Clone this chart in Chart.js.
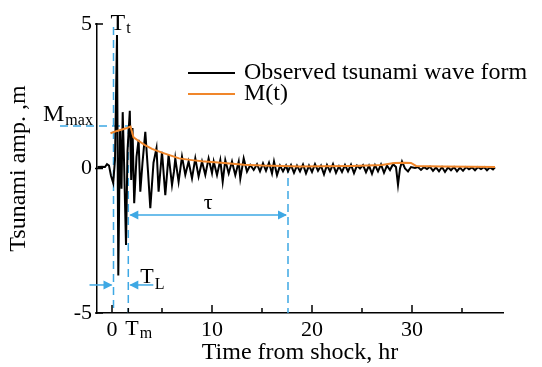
<!DOCTYPE html>
<html>
<head>
<meta charset="utf-8">
<script src="https://cdn.jsdelivr.net/npm/chart.js@4"></script>
<style>
  html, body { margin: 0; padding: 0; background: #fff; }
  #wrap { width: 542px; height: 367px; }
</style>
</head>
<body>
<div id="wrap"><canvas id="tsunamiChart"></canvas></div>
<script>
// observed wave form (hours from shock, metres)
const waveTime = [
  -1.45, -1.0, -0.7, -0.5, -0.3, -0.1, 0.12, 0.3, 0.5, 0.63, 0.8, 0.95, 1.07, 1.2, 1.4, 1.55, 1.78, 1.92,
  2.05, 2.22, 2.45, 2.66, 2.83, 3.05, 3.33, 3.6, 3.83, 4.15, 4.45, 4.66, 5.0, 5.33, 5.66, 6.0, 6.2, 6.33,
  6.66, 7.0, 7.33, 7.66, 8.0, 8.33, 8.66, 9.0, 9.33, 9.66, 10.0, 10.17, 10.5, 10.83, 11.07, 11.33, 11.67,
  12.0, 12.33, 12.67, 12.83, 13.17, 13.5, 13.83, 14.17, 14.5, 14.8, 15.1, 15.4, 15.7, 16.0, 16.2, 16.5,
  16.8, 17.1, 17.4, 17.6, 17.9, 18.2, 18.5, 18.8, 19.1, 19.4, 19.7, 20.0, 20.3, 20.6, 20.9, 21.2, 21.5,
  21.8, 22.1, 22.4, 22.7, 23.0, 23.3, 23.6, 23.9, 24.2, 24.5, 24.8, 25.1, 25.4, 25.7, 26.0, 26.3, 26.6,
  26.9, 27.2, 27.5, 27.8, 28.1, 28.4, 28.6, 28.8, 29.0, 29.3, 29.6, 29.9, 30.3, 30.6, 30.9, 31.2, 31.5,
  31.8, 32.1, 32.4, 32.7, 33.0, 33.3, 33.6, 33.9, 34.2, 34.5, 34.8, 35.1, 35.4, 35.7, 36.0, 36.3, 36.6,
  36.9, 37.2, 37.5, 37.8, 38.1, 38.3
];
const waveAmp = [
  0.05, 0.06, 0.05, 0.15, 0.1, -0.25, -0.5, 0.3, 4.62, -3.7, 1.3, -0.7, 1.95, 0.3, -2.65, 0.6, 2.0, -0.4,
  1.4, -1.2, 0.4, 0.99, -0.8, 0.2, 1.27, -0.1, -1.37, 0.2, 0.7, -0.8, 0.58, -0.92, 0.47, -0.57, -0.1, 0.35,
  -0.46, 0.41, -0.22, 0.24, -0.34, 0.35, -0.28, 0.24, -0.22, 0.35, -0.16, 0.24, -0.23, 0.29, -0.46, 0.29, -0.17,
  0.24, -0.23, 0.24, -0.35, 0.35, -0.11, 0.12, -0.05, 0.15, -0.1, 0.18, -0.08, 0.2, -0.17, 0.24, -0.23,
  0.1, -0.1, 0.1, -0.1, 0.12, -0.15, 0.1, -0.1, 0.14, -0.17, 0.1, -0.12, 0.15, -0.08, 0.1, -0.2, 0.12,
  -0.1, 0.15, -0.15, 0.08, -0.12, 0.12, -0.1, 0.13, -0.16, 0.1, 0.0, 0.12, -0.13, 0.1, -0.18, 0.12, -0.1,
  0.14, -0.15, 0.1, -0.05, 0.15, 0.05, -0.57, 0.0, 0.24, 0.0, -0.1, 0.05, 0.02, 0.05, -0.05, 0.05, -0.02,
  0.06, -0.08, 0.04, -0.1, 0.05, -0.12, 0.04, -0.06, 0.05, -0.1, 0.03, -0.08, 0.05, -0.03, 0.04, -0.06, 0.05,
  -0.02, 0.05, -0.06, 0.04, -0.03, 0.04
];

// M(t) envelope
const envTime = [-0.15, 0.5, 1.0, 1.5, 1.85, 2.15, 2.6, 3.3, 4.0, 5.0, 6.2, 6.7, 8.0, 9.0, 10.3, 11.5, 13.2,
  15.0, 17.0, 18.8, 21.0, 24.0, 27.0, 28.2, 29.3, 29.9, 30.4, 33.0, 36.0, 38.3];
const envAmp = [1.22, 1.3, 1.35, 1.4, 1.45, 1.08, 0.97, 0.81, 0.68, 0.55, 0.41, 0.35, 0.29, 0.25, 0.22, 0.18, 0.13,
  0.1, 0.09, 0.07, 0.08, 0.09, 0.12, 0.19, 0.2, 0.19, 0.09, 0.07, 0.06, 0.05];

const xTicks = [0, 10, 20, 30];
const xMinorTicks = [5, 15, 25, 35];
const yTicks = [-5, 0, 5];

// marked times / levels
const arrivalTime = 0.15;   // T_t
const peakTime = 1.63;      // T_m
const durationEnd = 17.6;   // end of tau
const envMax = 1.47;        // M_max

const blue = '#3ea8e4';
const orange = '#f0862a';
const serif = "'Liberation Serif', 'Times New Roman', serif";

function seg(ctx, x1, y1, x2, y2) {
  ctx.beginPath();
  ctx.moveTo(x1, y1);
  ctx.lineTo(x2, y2);
  ctx.stroke();
}

function arrowHead(ctx, x, y, dir) {
  ctx.beginPath();
  ctx.moveTo(x, y);
  ctx.lineTo(x - 9 * dir, y - 4.5);
  ctx.lineTo(x - 9 * dir, y + 4.5);
  ctx.closePath();
  ctx.fill();
}

function subText(ctx, main, sub, x, y, size, subSize, drop) {
  ctx.font = size + 'px ' + serif;
  ctx.fillText(main, x, y);
  const w = ctx.measureText(main).width;
  ctx.font = subSize + 'px ' + serif;
  ctx.fillText(sub, x + w + 1, y + drop);
}

const marksPlugin = {
  id: 'marks',
  beforeDatasetsDraw(chart) {
    const { ctx, chartArea } = chart;
    const xs = chart.scales.x, ys = chart.scales.y;
    const xt = xs.getPixelForValue(arrivalTime);
    const xm = xs.getPixelForValue(peakTime);
    const xe = xs.getPixelForValue(durationEnd);
    const yMax = ys.getPixelForValue(envMax);
    const bottom = chartArea.bottom;

    ctx.save();
    ctx.strokeStyle = blue;
    ctx.fillStyle = blue;
    ctx.lineWidth = 1.5;
    ctx.setLineDash([8, 5]);
    seg(ctx, xt, ys.getPixelForValue(4.9), xt, bottom);
    seg(ctx, chartArea.left - 37, yMax, xm, yMax);
    seg(ctx, xm, yMax, xm, bottom);
    seg(ctx, xe, ys.getPixelForValue(0.12), xe, bottom);
    ctx.setLineDash([]);

    const yTau = ys.getPixelForValue(-1.61);
    seg(ctx, xm + 2, yTau, xe - 2, yTau);
    arrowHead(ctx, xm + 1, yTau, -1);
    arrowHead(ctx, xe - 1, yTau, 1);

    const yL = ys.getPixelForValue(-4.03);
    seg(ctx, xt - 24, yL, xt - 2, yL);
    arrowHead(ctx, xt - 1, yL, 1);
    seg(ctx, xm + 25, yL, xm + 2, yL);
    arrowHead(ctx, xm + 1, yL, -1);
    ctx.restore();
  },
  afterDraw(chart) {
    const { ctx, chartArea } = chart;
    const xs = chart.scales.x, ys = chart.scales.y;
    const xt = xs.getPixelForValue(arrivalTime);
    const xm = xs.getPixelForValue(peakTime);
    const xe = xs.getPixelForValue(durationEnd);
    const bottom = chartArea.bottom;

    ctx.save();
    // tick marks
    ctx.strokeStyle = '#000';
    ctx.lineWidth = 1.5;
    xTicks.forEach(v => { const p = xs.getPixelForValue(v); seg(ctx, p, bottom, p, bottom - 8); });
    xMinorTicks.forEach(v => { const p = xs.getPixelForValue(v); seg(ctx, p, bottom, p, bottom - 5); });
    seg(ctx, xm, bottom, xm, bottom - 5);
    yTicks.forEach(v => { const p = ys.getPixelForValue(v); seg(ctx, chartArea.left - 2, p, chartArea.left + 6, p); });

    // labels for the marks
    ctx.fillStyle = '#000';
    ctx.textAlign = 'left';
    ctx.textBaseline = 'alphabetic';
    subText(ctx, 'T', 't', xt - 3, ys.getPixelForValue(5) + 6, 24, 16, 3);
    subText(ctx, 'M', 'max', chartArea.left - 54, ys.getPixelForValue(envMax) - 5, 24, 16, 4);
    subText(ctx, 'T', 'L', xm + 12, ys.getPixelForValue(-4.03) - 2, 22, 16, 6);
    subText(ctx, 'T', 'm', xm - 3, bottom + 22, 22, 16, 3);
    ctx.font = '22px ' + serif;
    ctx.textAlign = 'center';
    ctx.fillText('τ', (xm + xe) / 2, ys.getPixelForValue(-1.61) - 6);

    // legend
    ctx.textAlign = 'left';
    ctx.textBaseline = 'middle';
    ctx.font = '24px ' + serif;
    chart.data.datasets.forEach((ds, i) => {
      const yy = 73 + i * 21;
      ctx.strokeStyle = ds.borderColor;
      ctx.lineWidth = 2;
      seg(ctx, 188, yy, 235, yy);
      ctx.fillStyle = '#000';
      ctx.fillText(ds.label, 244, yy);
    });
    ctx.restore();
  }
};

const ctx = document.getElementById('tsunamiChart').getContext('2d');
new Chart(ctx, {
  type: 'line',
  data: {
    datasets: [
      {
        label: 'Observed tsunami wave form',
        data: waveTime.map((t, i) => ({ x: t, y: waveAmp[i] })),
        borderColor: '#000',
        borderWidth: 2,
        pointRadius: 0,
        tension: 0,
        order: 1
      },
      {
        label: 'M(t)',
        data: envTime.map((t, i) => ({ x: t, y: envAmp[i] })),
        borderColor: orange,
        borderWidth: 2,
        pointRadius: 0,
        tension: 0,
        order: 0
      }
    ]
  },
  options: {
    responsive: true,
    maintainAspectRatio: false,
    animation: false,
    devicePixelRatio: 1,
    layout: { padding: { top: 24, right: 39, left: 0, bottom: 0 } },
    plugins: {
      legend: { display: false },
      tooltip: { enabled: false }
    },
    scales: {
      x: {
        type: 'linear',
        min: -1.5,
        max: 39.1,
        afterBuildTicks: s => { s.ticks = xTicks.map(v => ({ value: v })); },
        afterFit: s => { s.height = 54; },
        grid: { display: false, drawTicks: false },
        border: { display: true, color: '#000', width: 1.5 },
        ticks: { color: '#000', font: { family: serif, size: 22 }, padding: 4, maxRotation: 0 },
        title: { display: true, text: 'Time from shock, hr', color: '#000', font: { family: serif, size: 24 }, padding: 0 }
      },
      y: {
        min: -5,
        max: 5,
        afterBuildTicks: s => { s.ticks = yTicks.map(v => ({ value: v })); },
        afterFit: s => { s.width = 97; },
        grid: { display: false, drawTicks: false },
        border: { display: true, color: '#000', width: 1.5 },
        ticks: { color: '#000', font: { family: serif, size: 22 }, padding: 5 },
        title: { display: true, text: 'Tsunami amp. ,m', color: '#000', font: { family: serif, size: 24 }, padding: 4 }
      }
    }
  },
  plugins: [marksPlugin]
});
</script>
</body>
</html>
